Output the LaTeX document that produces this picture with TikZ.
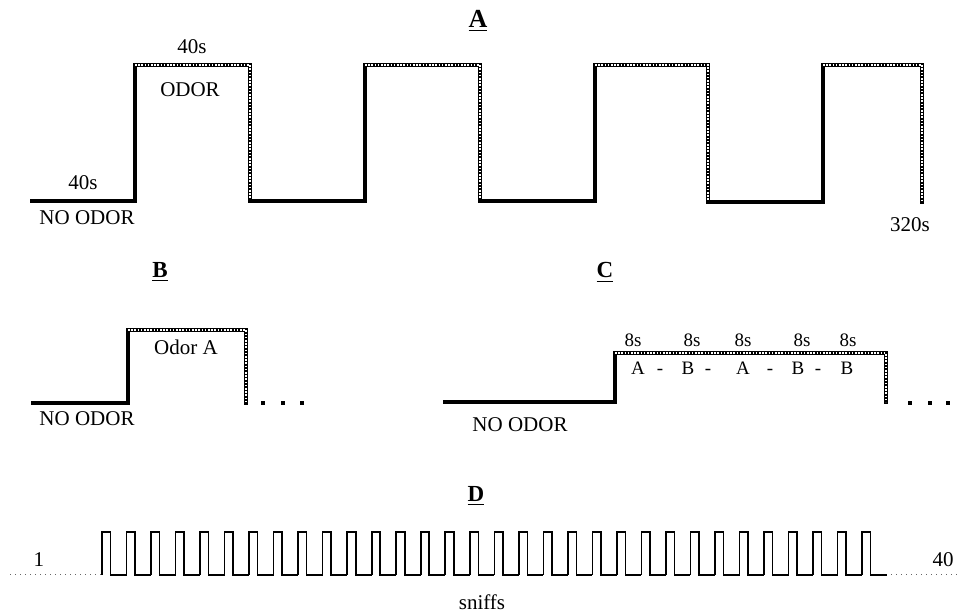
\documentclass[tikz,border=0pt]{standalone}
\usepackage{fontspec}
\setmainfont{Liberation Serif}
\begin{document}
\begin{tikzpicture}[x=0.5pt, y=-0.5pt,
    noodor/.style={line width=2.1pt, black, line cap=rect},
    odor/.style={line width=2.1pt, black, line cap=rect,
        postaction={draw=white, line width=0.9pt, line cap=butt, dash pattern=on 0.8pt off 0.8pt}},
    sniff/.style={line width=0.8pt, black},
    baseline/.style={line width=0.5pt, black!60, dotted},
    lbl/.style={font=\fontsize{10.5}{12}\selectfont, inner sep=0pt},
    small/.style={font=\fontsize{9.5}{11}\selectfont, inner sep=0pt, anchor=base},
    panel/.style={font=\fontsize{11.5}{13}\selectfont\bfseries, inner sep=0pt, anchor=base}]
        \useasboundingbox (0,0) rectangle (959,613);

        % Panel A: odor / no odor blocks of 40s
        \node[panel, font=\fontsize{13}{15}\selectfont\bfseries] (titleA) at (478,28) {\underline{A}};
        \draw[noodor] (32,201)--(135,201)--(135,65);
        \draw[odor] (135,65)--(250,65)--(250,201);
        \draw[noodor] (250,201)--(365,201)--(365,65);
        \draw[odor] (365,65)--(480,65)--(480,201);
        \draw[noodor] (480,201)--(595,201)--(595,65);
        \draw[odor] (595,65)--(708,65)--(708,202);
        \draw[noodor] (708,202)--(823,202)--(823,65);
        \draw[odor] (823,65)--(922,65)--(922,202);
        \node[lbl] (topA) at (192,47) {40s};
        \node[lbl] (odorA) at (190,90) {ODOR};
        \node[lbl] (botA) at (83,183) {40s};
        \node[lbl] (noodorA) at (87,218) {NO ODOR};
        \node[lbl] (endA) at (910,225) {320s};

        % Panel B: single odor
        \node[panel] (titleB) at (160,278) {\underline{B}};
        \draw[noodor] (33,403)--(128,403)--(128,330);
        \draw[odor] (128,330)--(246,330)--(246,403);
        \foreach \x in {263,283,302}
            \fill (\x-2,403-2) rectangle (\x+2,403+2);
        \node[lbl] (odorB) at (186,347) {Odor A};
        \node[lbl] (noodorB) at (87,419) {NO ODOR};

        % Panel C: alternating odors, 8s each
        \node[panel] (titleC) at (605,278) {\underline{C}};
        \draw[noodor] (445,402)--(615,402)--(615,353);
        \draw[odor] (615,353)--(886,353)--(886,402);
        \foreach \x in {910,930,948}
            \fill (\x-2,403-2) rectangle (\x+2,403+2);
        \foreach \x [count=\i] in {633,692,743,802,848}
            \node[small] (t\i) at (\x,347) {8s};
        \foreach \x/\s [count=\i] in {638/A,660/-,688/B,708/-,743/A,770/-,798/B,818/-,847/B}
            \node[small] (s\i) at (\x,375) {\s};
        \node[lbl] (noodorC) at (520,425) {NO ODOR};

        % Panel D: sniff train
        \node[panel] (titleD) at (476,502) {\underline{D}};
        \draw[baseline] (10,575)--(102,575);
        \draw[baseline] (871,575)--(957,575);
        \foreach \i in {0,...,31}
            \draw[sniff] ({102+24.52*\i},575)--({102+24.52*\i},532)--({110.5+24.52*\i},532)--({110.5+24.52*\i},575)--({126.52+24.52*\i},575);
        \node[lbl] (first) at (39,560) {1};
        \node[lbl] (last) at (943,560) {40};
        \node[lbl] (sniffs) at (482,602) {sniffs};
\end{tikzpicture}
\end{document}
